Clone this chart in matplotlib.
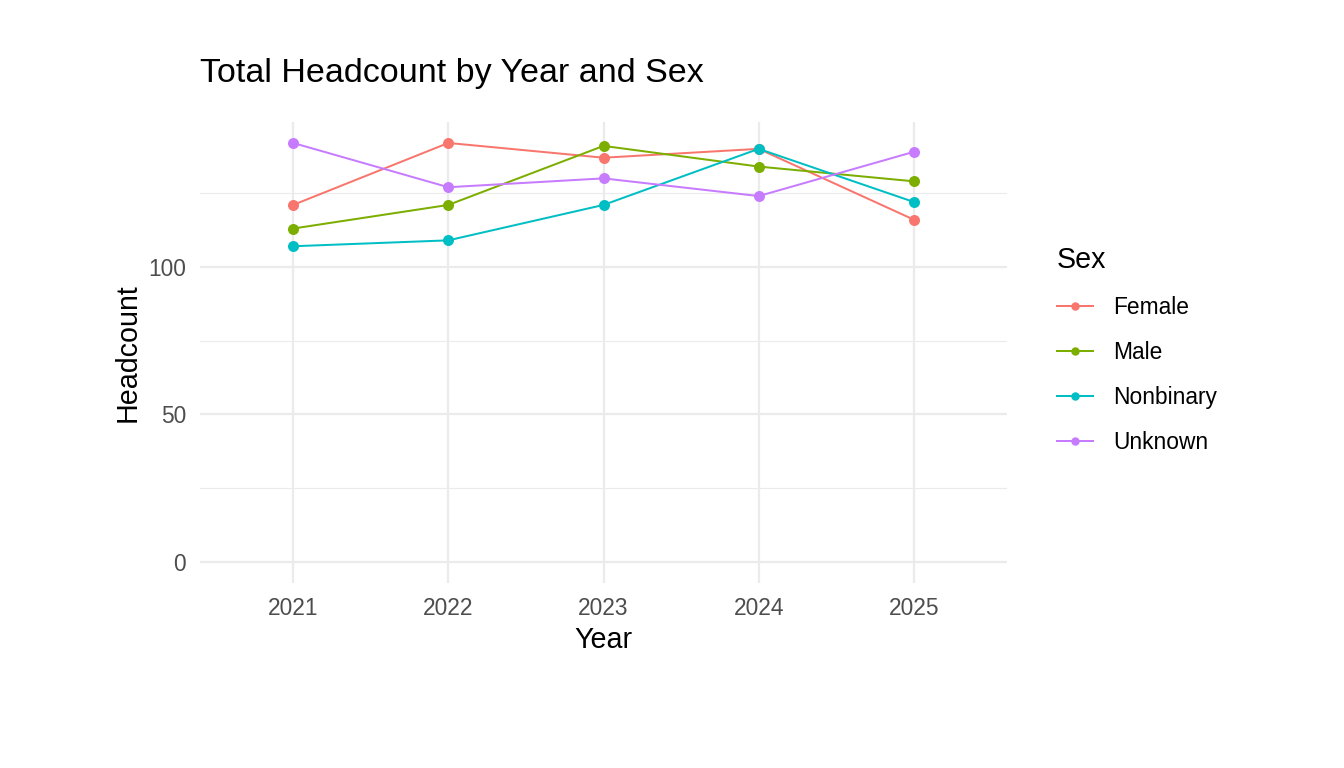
import matplotlib.pyplot as plt
from matplotlib.ticker import MultipleLocator

plt.rcParams['font.family'] = ['Liberation Sans', 'DejaVu Sans']

years = [2021, 2022, 2023, 2024, 2025]
sexes = ['Female', 'Male', 'Nonbinary', 'Unknown']
female = [121, 142, 137, 140, 116]
male = [113, 121, 141, 134, 129]
nonbinary = [107, 109, 121, 140, 122]
unknown = [142, 127, 130, 124, 139]
colors = ['#F8766D', '#7CAE00', '#00BFC4', '#C77CFF']

fig = plt.figure(figsize=(1344 / 144, 768 / 144), dpi=144)
ax = fig.add_axes([200 / 1344, 1 - 583 / 768, 807 / 1344, 461 / 768])

for name, vals, c in zip(sexes, [female, male, nonbinary, unknown], colors):
    ax.plot(years, vals, color=c, lw=1.0, marker='o', ms=4.5, label=name, zorder=3)

ax.set_xlim(2020.4, 2025.6)
ax.set_ylim(-7.1, 149.1)
ax.set_yticks([0, 50, 100])
ax.yaxis.set_minor_locator(MultipleLocator(25))
ax.set_xticks(years)
ax.grid(which='major', color='#EBEBEB', lw=1.1)
ax.grid(which='minor', axis='y', color='#EBEBEB', lw=0.55)
for s in ax.spines.values():
    s.set_visible(False)
ax.tick_params(which='both', length=0, labelsize=11.4, labelcolor='#4D4D4D')
ax.tick_params(axis='x', pad=7)
ax.tick_params(axis='y', pad=7)

ax.set_xlabel('Year', fontsize=14.3, labelpad=3)
ax.set_ylabel('Headcount', fontsize=14.3, labelpad=3)
ax.set_title('Total Headcount by Year and Sex', fontsize=17, loc='left', pad=20)

leg = ax.legend(title='Sex', loc='center left', bbox_to_anchor=(1.036, 0.505),
                frameon=False, fontsize=11.4, title_fontsize=14.3,
                handlelength=1.6, handletextpad=0.9, labelspacing=0.97)
leg._legend_box.align = 'left'
for h in leg.legend_handles:
    h.set_markersize(3.2)

fig.savefig('out.png', dpi=144, facecolor='white')
